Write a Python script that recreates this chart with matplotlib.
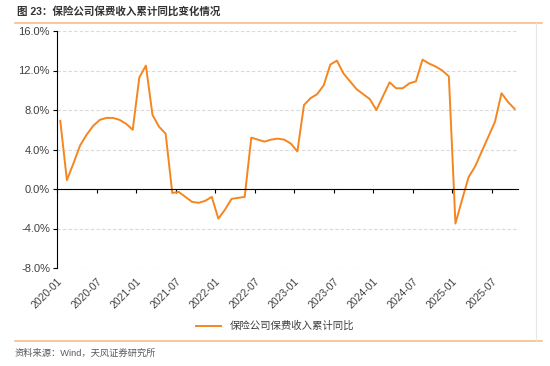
import numpy as np
import matplotlib
matplotlib.use('Agg')
import matplotlib.pyplot as plt
from matplotlib.lines import Line2D

plt.rcParams['font.family'] = ['Liberation Sans', 'Noto Sans CJK SC']
plt.rcParams['axes.unicode_minus'] = False

# monthly cumulative yoy, 2020-01 .. 2025-10 (%)
yoy = [6.9, 0.9, 2.6, 4.4, 5.5, 6.4, 7.0, 7.2, 7.2, 7.0, 6.6, 6.0,
       11.3, 12.5, 7.5, 6.3, 5.6, -0.4, -0.3, -0.8, -1.3, -1.4, -1.2, -0.8,
       -3.0, -2.1, -1.0, -0.9, -0.8, 5.2, 5.0, 4.8, 5.0, 5.1, 5.0, 4.6,
       3.8, 8.5, 9.2, 9.6, 10.5, 12.6, 13.0, 11.7, 10.9, 10.1, 9.6, 9.1,
       8.0, 9.4, 10.8, 10.2, 10.2, 10.7, 10.9, 13.1, 12.7, 12.4, 12.0, 11.4,
       -3.5, -1.1, 1.2, 2.3, 3.8, 5.3, 6.8, 9.7, 8.8, 8.1]
tick_labels = ['2020-01', '2020-07', '2021-01', '2021-07', '2022-01', '2022-07',
               '2023-01', '2023-07', '2024-01', '2024-07', '2025-01', '2025-07']
y_ticks = [-8, -4, 0, 4, 8, 12, 16]
series_name = '保险公司保费收入累计同比'

ORANGE = '#F5861F'
GREY = '#404040'

fig = plt.figure(figsize=(5.5, 3.66), dpi=100)
ax = fig.add_axes([57/550, 1-268/366, (518-57)/550, (268-31)/366])

x = np.arange(len(yoy)) + 0.5
ax.plot(x, yoy, color=ORANGE, lw=1.4, label=series_name, solid_joinstyle='round')

ax.set_xlim(0, len(yoy))
ax.set_ylim(-8, 16)
ax.set_yticks(y_ticks)
ax.set_yticklabels(['%.1f%%' % v for v in y_ticks], color=GREY, fontsize=8)
ax.yaxis.grid(True, color='#D9D9D9', ls=(0, (3, 2)), lw=0.8)
ax.set_axisbelow(True)
for s in ['top', 'right']:
    ax.spines[s].set_visible(False)
ax.spines['left'].set_color('black')
ax.spines['bottom'].set_position(('data', 0))
ax.spines['bottom'].set_color('black')
ax.tick_params(axis='y', length=3, width=0.8, pad=2)

ticks = np.arange(len(tick_labels)) * 6
ax.set_xticks(ticks)
ax.tick_params(axis='x', length=3, width=0.8, labelbottom=False)

sec = ax.secondary_xaxis(0)
sec.set_xticks(ticks)
sec.set_xticklabels(tick_labels, rotation=45, ha='right', rotation_mode='anchor',
                    fontsize=7.5, color=GREY)
sec.tick_params(length=0, pad=6)
sec.spines['bottom'].set_visible(False)

fig.legend(loc='center', bbox_to_anchor=(0.5, 1-326/366), frameon=False,
           fontsize=7.5, handlelength=2.4, labelcolor=GREY)

# header / footer decoration
fig.text(17/550, 1-11/366, '图 23：保险公司保费收入累计同比变化情况', fontsize=7.6,
         fontweight='bold', color='#333333', va='center', ha='left')
fig.add_artist(Line2D([15/550, 542/550], [1-22.5/366]*2, color='#F9BE8A', lw=1.2))
fig.add_artist(Line2D([15/550, 542/550], [1-340.5/366]*2, color='#F9BE8A', lw=1.2))
fig.add_artist(Line2D([535.5/550]*2, [1-23/366, 1-340/366], color='#E6E6E6', lw=0.8))
fig.text(15/550, 1-353/366, '资料来源：Wind，天风证券研究所', fontsize=6.7, color='#595959',
         va='center', ha='left')

fig.savefig('out.png', dpi=100)
